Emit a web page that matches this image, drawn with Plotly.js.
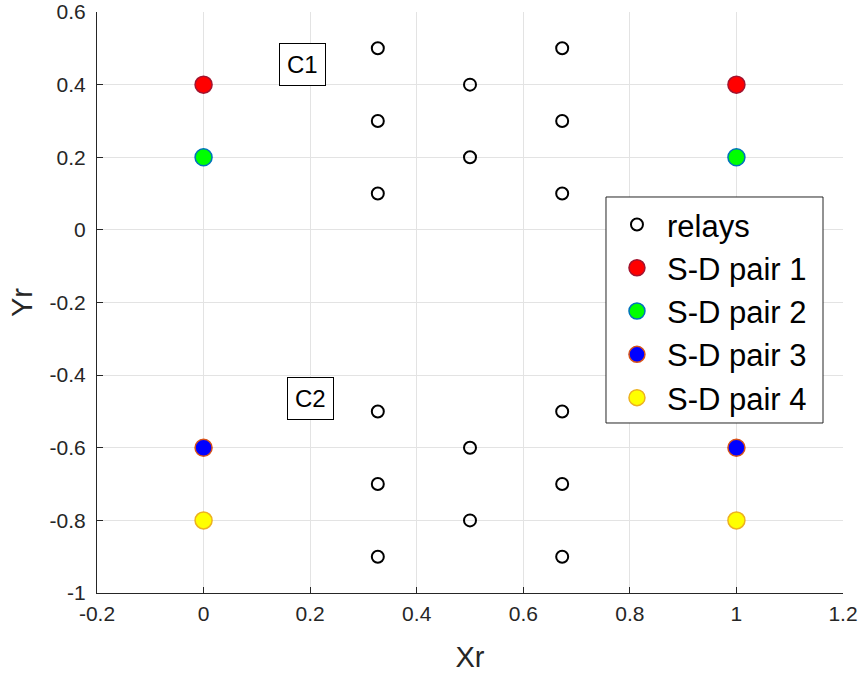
<!DOCTYPE html>
<html><head><meta charset="utf-8">
<script src="https://cdn.plot.ly/plotly-3.0.1.min.js"></script>
<style>body{margin:0;padding:0;background:#fff}#chart{width:860px;height:675px}</style>
</head><body><div id="chart"></div>
<script>
const relayX = [0.327, 0.327, 0.327, 0.5, 0.5, 0.673, 0.673, 0.673, 0.327, 0.327, 0.327, 0.5, 0.5, 0.673, 0.673, 0.673];
const relayY = [0.5, 0.3, 0.1, 0.4, 0.2, 0.5, 0.3, 0.1, -0.5, -0.7, -0.9, -0.6, -0.8, -0.5, -0.7, -0.9];
const pairNames = ["S-D pair 1", "S-D pair 2", "S-D pair 3", "S-D pair 4"];
const pairX = [[0, 1], [0, 1], [0, 1], [0, 1]];
const pairY = [[0.4, 0.4], [0.2, 0.2], [-0.6, -0.6], [-0.8, -0.8]];
const pairFill = ["#ff0000", "#00ff00", "#0000ff", "#ffff00"];
const pairEdge = ["#a2142f", "#0072bd", "#d95319", "#edb120"];
const clusterLabels = ["C1", "C2"];
const clusterX = [0.186, 0.2];
const clusterY = [0.455, -0.463];
const xTickVals = [-0.2, 0, 0.2, 0.4, 0.6, 0.8, 1, 1.2];
const xTickText = ["-0.2", "0", "0.2", "0.4", "0.6", "0.8", "1", "1.2"];
const yTickVals = [-1, -0.8, -0.6, -0.4, -0.2, 0, 0.2, 0.4, 0.6];
const yTickText = ["-1", "-0.8", "-0.6", "-0.4", "-0.2", "0", "0.2", "0.4", "0.6"];

const FONT = "Liberation Sans, Arial, sans-serif";
const traces = [{
  x: relayX, y: relayY, mode: "markers", type: "scatter", name: "relays", legendgroup: "g0",
  marker: {symbol: "circle-open", size: 12, color: "#000", line: {width: 2, color: "#000"}}
}];
pairNames.forEach((n, i) => traces.push({
  x: pairX[i], y: pairY[i], mode: "markers", type: "scatter", name: n, legendgroup: "g" + (i + 1),
  marker: {symbol: "circle", size: 17, color: pairFill[i], line: {width: 1.5, color: pairEdge[i]}}
}));

const axisCommon = {
  showline: true, linecolor: "#262626", linewidth: 1, mirror: false,
  ticks: "inside", ticklen: 6, tickcolor: "#262626",
  showgrid: true, gridcolor: "#e3e3e3", gridwidth: 1, zeroline: false,
  tickfont: {family: FONT, size: 21, color: "#262626"}
};
const layout = {
  width: 860, height: 675,
  margin: {l: 97, r: 17, t: 12, b: 82},
  paper_bgcolor: "#fff", plot_bgcolor: "#fff",
  showlegend: true,
  legend: {x: 0.6836, y: 0.6802, xanchor: "left", yanchor: "top", bgcolor: "rgba(0,0,0,0)",
    borderwidth: 0,
    font: {family: FONT, size: 31, color: "#000"},
    itemsizing: "trace", itemwidth: 50, tracegroupgap: 0},
  shapes: [{type: "rect", xref: "paper", yref: "paper", x0: 0.6823, x1: 0.9732, y0: 0.2926, y1: 0.6816,
    line: {color: "#262626", width: 1}, fillcolor: "#fff", layer: "above"}],
  xaxis: Object.assign({}, axisCommon, {range: [-0.2, 1.2], tickmode: "array",
    tickvals: xTickVals, ticktext: xTickText, ticklabelstandoff: 2,
    title: {text: "Xr", standoff: 22, font: {family: FONT, size: 29, color: "#262626"}}}),
  yaxis: Object.assign({}, axisCommon, {range: [-1, 0.6], tickmode: "array",
    tickvals: yTickVals, ticktext: yTickText, ticklabelstandoff: 6,
    title: {text: "Yr", standoff: 8, font: {family: FONT, size: 29, color: "#262626"}}}),
  annotations: clusterLabels.map((t, i) => ({
    x: clusterX[i], y: clusterY[i], xref: "x", yref: "y", text: t, showarrow: false,
    font: {family: FONT, size: 24, color: "#000"},
    bgcolor: "#fff", bordercolor: "#000", borderwidth: 1, borderpad: 7
  }))
};
Plotly.newPlot("chart", traces, layout, {displayModeBar: false, staticPlot: true});
</script></body></html>
